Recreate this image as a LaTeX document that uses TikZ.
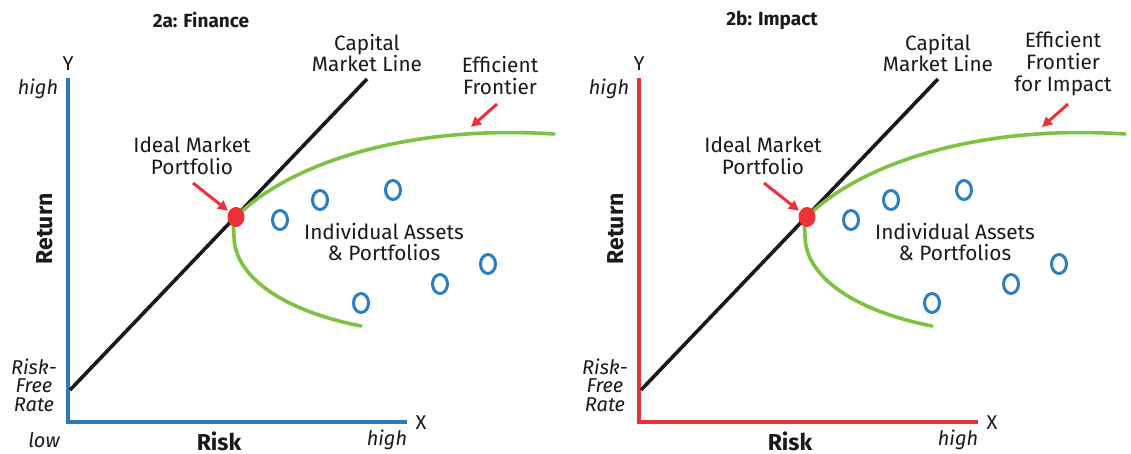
\documentclass[tikz,border=0pt]{standalone}
\usepackage{fontspec}
\setmainfont{Fira Sans}
\usetikzlibrary{arrows.meta,shapes.geometric}

\definecolor{axisblue}{HTML}{2C79B6}
\definecolor{axisred}{HTML}{E8333A}
\definecolor{assetblue}{HTML}{2A7EC2}
\definecolor{frontgreen}{HTML}{7DC243}
\definecolor{dotred}{HTML}{EC3237}
\definecolor{ink}{HTML}{1A1A1A}

\tikzset{
  lbl/.style={inner sep=0pt, align=center, text=ink, font=\fontsize{20.8}{21}\selectfont},
  lblit/.style={lbl, font=\fontsize{20}{18.5}\selectfont\itshape},
  lblbold/.style={inner sep=0pt, text=ink, font=\fontsize{23}{26}\selectfont\bfseries},
  titlelbl/.style={inner sep=0pt, text=ink, font=\fontsize{19}{22}\selectfont\bfseries},
  axislbl/.style={inner sep=0pt, text=ink, font=\fontsize{20}{22}\selectfont},
  axisline/.style={line width=3.6pt, line join=miter},
  cmlline/.style={line width=3.6pt, ink},
  frontier/.style={line width=3.6pt, frontgreen, line cap=round},
  asset/.style={ellipse, draw=assetblue, line width=3pt, minimum width=15pt, minimum height=19pt, inner sep=0pt},
  mdot/.style={ellipse, fill=dotred, minimum width=17pt, minimum height=20pt, inner sep=0pt},
  pointer/.style={line width=3pt, dotred, -{Triangle[length=10pt,width=10pt]}},
}

% one risk/return panel: #1 axis colour, #2 title, #3 frontier label, #4 its centre
\newcommand\drawpanel[4]{%
  \node[titlelbl] (title) at (201,20) {#2};
  % axes
  \coordinate (ytop) at (68,78);
  \coordinate (xend) at (407,422);
  \draw[axisline, #1] (ytop) |- (xend);
  \node[axislbl] (ylab) at (68,64) {Y};
  \node[axislbl] (xlab) at (421,423) {X};
  \node[lblit] (yhigh) at (38,89) {high};
  \node[lblit] (xhigh) at (387,440) {high};
  \node[lblbold, rotate=90] (ret) at (45,229) {Return};
  \node[lblbold] (risk) at (219,441) {Risk};
  \node[lblit] (rfr) at (34,385) {Risk-\\Free\\Rate};
  % capital market line
  \coordinate (rf) at (70,390);
  \coordinate (cmltop) at (367,79);
  \draw[cmlline] (rf) -- (cmltop);
  \node[lbl, font=\fontsize{20.8}{19}\selectfont] (cmllab) at (367,53) {Capital\\Market Line};
  % efficient frontier
  \draw[frontier] (361,326) .. controls (280,310) and (234,275) .. (234,236)
    .. controls (234,229) and (232,221) .. (236,217)
    .. controls (285,167) and (400,124) .. (554,134);
  \node[lbl, font=\fontsize{20.8}{22}\selectfont] (eflab) at #4 {#3};
  \coordinate (efstart) at (497,104);
  \coordinate (efhit) at (471,127);
  \draw[pointer] (efstart) -- (efhit);
  % ideal market portfolio
  \node[mdot] (dot) at (236,217) {};
  \node[lbl, font=\fontsize{20.8}{22}\selectfont] (imp) at (192,156) {Ideal Market\\Portfolio};
  \coordinate (impstart) at (193,183);
  \draw[pointer, shorten >=1pt] (impstart) -- (dot);
  % individual assets
  \node[asset] (a1) at (280,220) {};
  \node[asset] (a2) at (320,200) {};
  \node[asset] (a3) at (393,190) {};
  \node[asset] (a4) at (488,264) {};
  \node[asset] (a5) at (440,284) {};
  \node[asset] (a6) at (361,303) {};
  \node[lbl] (assets) at (384,242) {Individual Assets\\\& Portfolios};
}

\begin{document}
\begin{tikzpicture}[x=1pt, y=-1pt]
  \useasboundingbox[fill=white] (0,0) rectangle (1131,453);
  \begin{scope}[name prefix=fin-]
    \drawpanel{axisblue}{2a: Finance}{Efficient\\Frontier}{(500,76)}
    \node[lblit] (xlow) at (44,440) {low};
  \end{scope}
  \begin{scope}[shift={(571,0)}, name prefix=imp-]
    \drawpanel{axisred}{2b: Impact}{Efficient\\Frontier\\for Impact}{(492,64)}
  \end{scope}
\end{tikzpicture}
\end{document}
